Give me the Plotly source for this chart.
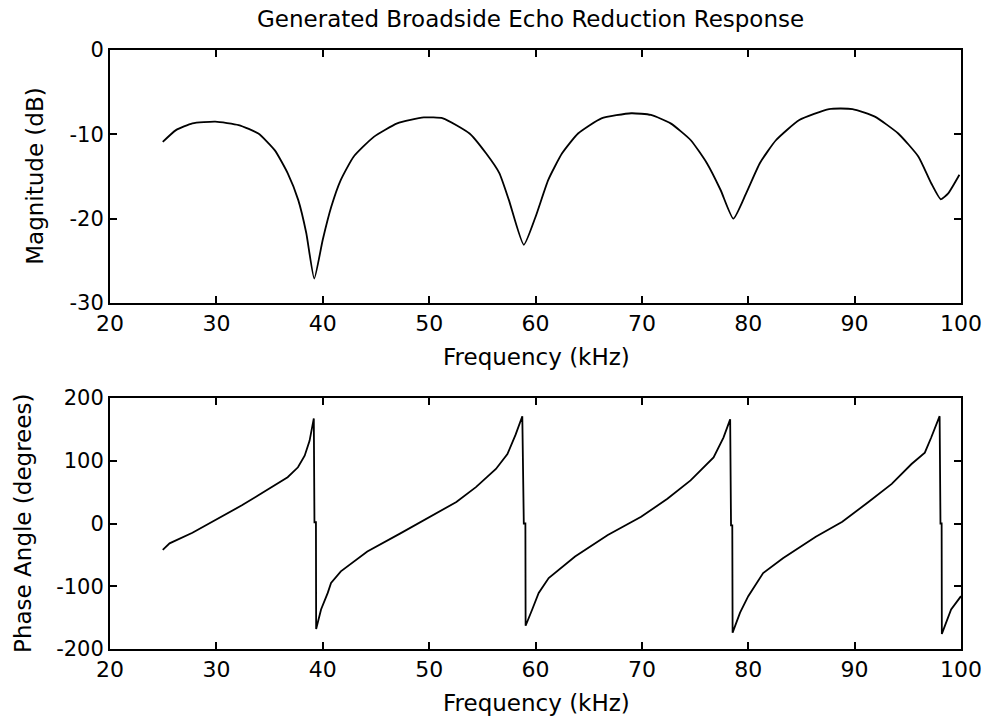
import plotly.graph_objects as go
from plotly.subplots import make_subplots

# ---- Data ----
mag_freq = [24.96, 26.2, 27.75, 29.9, 32.1, 33.95, 35.5, 36.7, 37.7, 38.45, 39.2,
            40.0, 40.8, 41.7, 42.9, 44.8, 47.0, 49.5, 51.3, 53.8, 55.35,
            56.6, 57.5, 58.9, 60.0, 61.2, 62.5, 64.0, 66.2, 69.0, 70.85,
            72.7, 74.6, 76.1, 77.4, 78.6, 79.8, 81.1, 82.6, 84.8, 87.6,
            89.8, 91.9, 94.1, 96.0, 97.2, 98.1, 98.8, 99.85]
mag_db = [-10.9, -9.5, -8.7, -8.5, -8.9, -9.9, -11.9, -14.6, -17.8, -21.7, -27.1,
          -22.5, -18.6, -15.4, -12.65, -10.3, -8.7, -8.0, -8.1, -9.9, -12.25,
          -14.6, -17.8, -23.1, -19.8, -15.4, -12.25, -9.9, -8.1, -7.5, -7.7,
          -8.7, -10.7, -13.4, -16.6, -20.0, -17.0, -13.4, -10.7, -8.3, -7.0,
          -7.0, -7.9, -9.9, -12.65, -15.8, -17.7, -17.0, -14.8]

ph_freq = [24.96, 25.6, 27.75, 29.93, 32.4, 33.95, 35.5, 36.7, 37.67, 38.3, 38.76,
           39.07, 39.16, 39.22, 39.36, 39.38, 39.84, 40.47, 40.78, 41.7, 44.19,
           47.3, 49.77, 52.56, 54.4, 56.28, 57.36, 58.14, 58.76, 58.88, 58.9,
           59.05, 59.07, 59.69, 60.3, 61.24, 63.72, 66.8, 69.93, 72.4, 74.58,
           76.74, 77.67, 78.3, 78.38, 78.5, 78.53, 79.23, 80.0, 81.4, 83.26,
           86.35, 88.84, 91.3, 93.49, 95.35, 96.6, 97.2, 97.99, 98.07, 98.18,
           98.2, 99.07, 100.0]
ph_deg = [-42, -31.6, -14.7, 5.4, 29, 45, 60.6, 73.8, 89.6, 108, 131.7,
          160.7, 167.5, 2, 2, -168, -137, -110.6, -94.8, -76.3, -44.7,
          -15.8, 7.9, 34.3, 58, 86.9, 110.6, 142, 171, 0, 0,
          0, -163, -137, -110.6, -86.9, -52.6, -18.4, 10.6, 39.5, 68.6,
          105.4, 137, 166, -3, -3, -174, -142, -115.8, -79, -55.3,
          -21, 2.7, 34.3, 63.2, 94.8, 113, 137, 171, 0, 0,
          -176, -137, -115.8]

x_ticks = [20, 30, 40, 50, 60, 70, 80, 90, 100]
mag_ticks = [0, -10, -20, -30]
ph_ticks = [200, 100, 0, -100, -200]

title_text = "Generated Broadside Echo Reduction Response"
xlabel = "Frequency (kHz)"
ylabel_top = "Magnitude (dB)"
ylabel_bot = "Phase Angle (degrees)"

FONT = "DejaVu Sans, Arial, sans-serif"

fig = make_subplots(rows=2, cols=1, vertical_spacing=0.0)

fig.add_trace(go.Scatter(x=mag_freq, y=mag_db, mode="lines",
                         line=dict(color="black", width=1.8, shape="spline", smoothing=0.5),
                         showlegend=False, hoverinfo="skip"), row=1, col=1)
fig.add_trace(go.Scatter(x=ph_freq, y=ph_deg, mode="lines",
                         line=dict(color="black", width=1.8),
                         showlegend=False, hoverinfo="skip"), row=2, col=1)

W, H = 994, 724
ml, mr, mt, mb = 110, 24, 50, 75
ph = H - mt - mb
top_dom = [(649 - 303) / ph, 1.0]
bot_dom = [0.0, (649 - 398) / ph]

axis_common = dict(showline=True, linecolor="black", linewidth=2, mirror="ticks",
                   ticks="inside", ticklen=7, tickwidth=1.8, tickcolor="black",
                   showgrid=False, zeroline=False)

fig.update_xaxes(**axis_common, range=[20, 100], tickvals=x_ticks,
                 ticktext=[str(v) for v in x_ticks],
                 tickfont=dict(family=FONT, size=22, color="black"))
fig.update_yaxes(**axis_common, tickfont=dict(family=FONT, size=21, color="black"))
fig.update_yaxes(range=[-30, 0], tickvals=mag_ticks, ticktext=[str(v) for v in mag_ticks],
                 domain=top_dom, row=1, col=1)
fig.update_yaxes(range=[-200, 200], tickvals=ph_ticks, ticktext=[str(v) for v in ph_ticks],
                 domain=bot_dom, row=2, col=1)

def py(y):
    return (H - mb - y) / ph

def px(x):
    return (x - ml) / (W - ml - mr)

ann = [
    dict(text=title_text, x=px(535), y=py(19), size=23, angle=0),
    dict(text=xlabel, x=px(541), y=py(357), size=23, angle=0),
    dict(text=xlabel, x=px(541), y=py(703), size=23, angle=0),
    dict(text=ylabel_top, x=px(34), y=py(176), size=23, angle=-90),
    dict(text=ylabel_bot, x=px(22), y=py(523), size=23, angle=-90),
]
for a in ann:
    fig.add_annotation(text=a["text"], xref="paper", yref="paper", x=a["x"], y=a["y"],
                       xanchor="center", yanchor="middle", showarrow=False,
                       textangle=a["angle"],
                       font=dict(family=FONT, size=a["size"], color="black"))

fig.update_layout(width=W, height=H, margin=dict(l=ml, r=mr, t=mt, b=mb),
                  paper_bgcolor="white", plot_bgcolor="white")

fig.write_html("out.html")
